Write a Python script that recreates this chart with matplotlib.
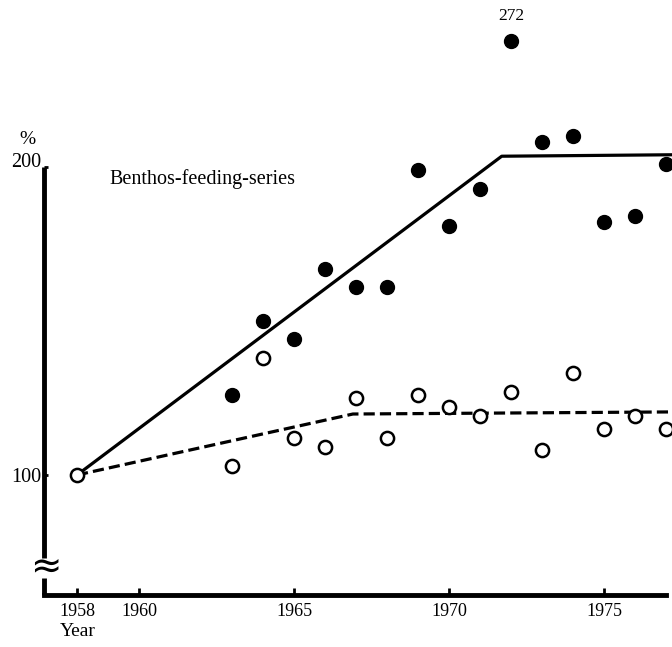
import matplotlib.pyplot as plt
from matplotlib.lines import Line2D

plt.rcParams['font.family'] = ['Liberation Serif', 'DejaVu Serif']

# filled dots: benthos-feeding series
years = [1963, 1964, 1965, 1966, 1967, 1968, 1969, 1970, 1971, 1972,
         1973, 1974, 1975, 1976, 1977]
filled = [126, 150, 144, 167, 161, 161, 199, 181, 193, 272,
          208, 210, 182, 184, 201]
# open circles
open_years = [1958, 1963, 1964, 1965, 1966, 1967, 1968, 1969, 1970, 1971,
              1972, 1973, 1974, 1975, 1976, 1977]
opened = [100, 103, 138, 112, 109, 125, 112, 126, 122, 119,
          127, 108, 133, 115, 119, 115]

# fitted trend lines
solid_x = [1958, 1971.7, 1977.5]
solid_y = [100, 203.5, 204]
dash_x = [1958, 1966.9, 1977.5]
dash_y = [100, 119.8, 120.5]

xticks = [1958, 1960, 1965, 1970, 1975]
yticks = [100, 200]

cap = 241  # where the off-scale value is drawn

fig = plt.figure(figsize=(6.72, 6.47), dpi=100)
W, H = 672, 647
ax = fig.add_axes([44 / W, (H - 595) / H, (W - 44) / W, 595 / H])
x0 = 1958 + (44 - 77) / 31.0
x1 = 1958 + (672 - 77) / 31.0
ax.set_xlim(x0, x1)
ax.set_ylim(100 - 120 / 3.08, 100 + 475 / 3.08)

ax.plot(solid_x, solid_y, color='black', lw=2.3, solid_capstyle='butt', zorder=2)
ax.plot(dash_x, dash_y, color='black', lw=2.3, ls=(0, (3.5, 1.6)), zorder=2)

fy = [min(v, cap) for v in filled]
ax.plot(years, fy, 'o', color='black', ms=10, zorder=3, clip_on=False)
for yr, v in zip(years, filled):
    if v > cap:
        ax.text(yr, cap + 5.5, str(v), ha='center', va='bottom', fontsize=12.5)
ax.plot(open_years, opened, 'o', mfc='white', mec='black', mew=1.8, ms=9.5,
        zorder=4, clip_on=False)

# axes
for s in ['top', 'right', 'left']:
    ax.spines[s].set_visible(False)
ax.spines['bottom'].set_linewidth(3.5)
ax.spines['bottom'].set_bounds(x0, 1977)
ax.set_xticks(xticks)
ax.set_xticklabels([str(t) for t in xticks], fontsize=13)
ax.tick_params(axis='x', direction='in', length=5, width=2, pad=6)

ylo = ax.get_ylim()[0]
tr = ax.get_yaxis_transform()
ax.add_line(Line2D([0, 0], [73, 200], transform=tr, color='black', lw=3.5,
                   clip_on=False, solid_capstyle='butt'))
ax.add_line(Line2D([0, 0], [ylo, 66.5], transform=tr, color='black', lw=3.5,
                   clip_on=False, solid_capstyle='butt'))
ax.set_yticks(yticks)
ax.set_yticklabels([str(t) for t in yticks], fontsize=14.5)
ax.get_yticklabels()[1].set_va('baseline')
ax.tick_params(axis='y', direction='in', length=3, width=2, pad=2)
ax.text(0.002, 69.5, '\u2248', transform=tr, ha='center', va='center',
        fontsize=27, family='DejaVu Sans')
ax.text(-0.027, 209, '%', transform=tr, ha='center', va='center', fontsize=14)

ax.text(1959.05, 196, 'Benthos-feeding-series', ha='left', va='center', fontsize=14.5)
fig.text(60 / W, 1 - 632 / H, 'Year', ha='left', va='center', fontsize=14)

fig.savefig('out.png', dpi=100)
